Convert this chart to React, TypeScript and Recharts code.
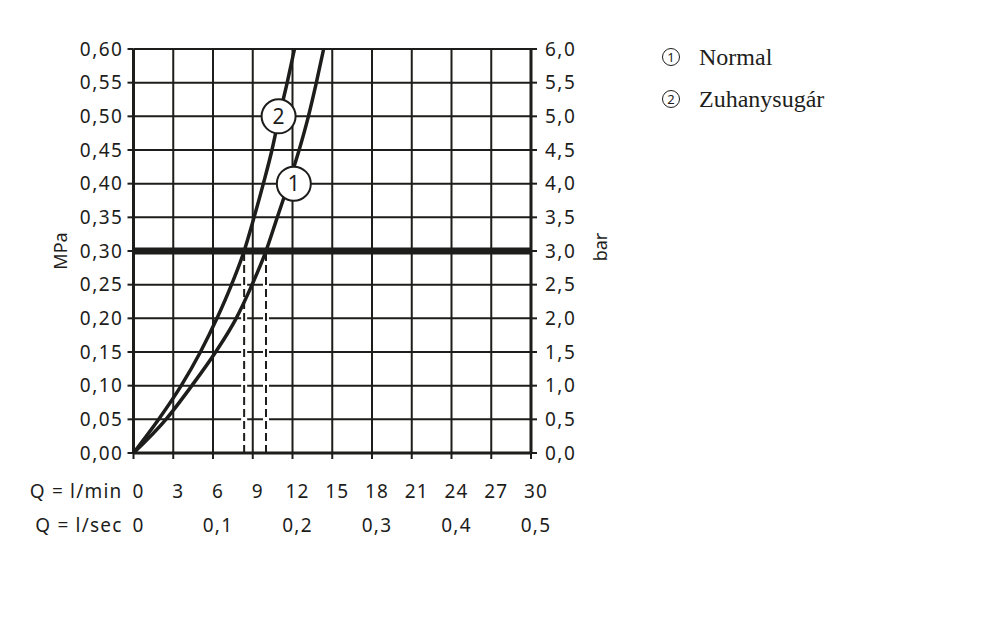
import {
  LineChart,
  Line,
  XAxis,
  YAxis,
  CartesianGrid,
  ReferenceLine,
  ReferenceDot,
  Label,
} from 'recharts';

// pressure steps (MPa) and the flow read for each curve at that pressure (l/min)
const pressureMPa = [0, 0.05, 0.1, 0.15, 0.2, 0.25, 0.3, 0.35, 0.4, 0.45, 0.5, 0.55, 0.6];
const normalFlow = [0, 2.45, 4.4, 6.2, 7.75, 8.95, 10.0, 10.85, 11.7, 12.5, 13.2, 13.8, 14.35];
const showerFlow = [0, 1.9, 3.6, 5.05, 6.3, 7.4, 8.35, 9.1, 9.8, 10.45, 11.0, 11.6, 12.15];

const lminTicks = [0, 3, 6, 9, 12, 15, 18, 21, 24, 27, 30];
const lsecTicks = [0, 6, 12, 18, 24, 30];
const lsecLabels = ['0', '0,1', '0,2', '0,3', '0,4', '0,5'];
const mpaTicks = [0, 0.05, 0.1, 0.15, 0.2, 0.25, 0.3, 0.35, 0.4, 0.45, 0.5, 0.55, 0.6];
const barTicks = [0, 0.5, 1, 1.5, 2, 2.5, 3, 3.5, 4, 4.5, 5, 5.5, 6];

const refPressure = 0.3;
const refFlows = [8.35, 10.0];

const normalData = pressureMPa.map((p, i) => ({ q: normalFlow[i], p }));
const showerData = pressureMPa.map((p, i) => ({ q: showerFlow[i], p }));
// same curve in bar, only so the right axis has something bound to it
const barData = pressureMPa.map((p, i) => ({ q: normalFlow[i], bar: p * 10 }));

const INK = '#1d1d1b';
const SANS = '"Noto Sans", "DejaVu Sans", sans-serif';

function FlowTick({ x, y, payload, index }: any) {
  const v = payload.value;
  const secIdx = lsecTicks.indexOf(v);
  return (
    <g fill={INK} fontFamily={SANS} fontSize={19} letterSpacing={1.2}>
      <text x={x + 5} y={y + 37} textAnchor="middle">
        {v}
      </text>
      {secIdx >= 0 && (
        <text x={x + 5} y={y + 71} textAnchor="middle">
          {lsecLabels[secIdx]}
        </text>
      )}
      {index === 0 && (
        <>
          <text x={x - 11} y={y + 37} textAnchor="end">
            Q = l/min
          </text>
          <text x={x - 11} y={y + 71} textAnchor="end">
            Q = l/sec
          </text>
        </>
      )}
    </g>
  );
}

function Circled({ n }: { n: number }) {
  return (
    <span
      style={{
        display: 'inline-flex',
        alignItems: 'center',
        justifyContent: 'center',
        width: 18,
        height: 18,
        border: `1.5px solid ${INK}`,
        borderRadius: '50%',
        fontFamily: SANS,
        fontSize: 13,
        lineHeight: 1,
        marginRight: 19,
        boxSizing: 'border-box',
      }}
    >
      {n}
    </span>
  );
}

export default function App() {
  return (
    <div style={{ position: 'relative', width: 984, height: 600 }}>
      <LineChart
        width={620}
        height={560}
        margin={{ top: 41, right: 17, bottom: 25, left: 0 }}
      >
        <CartesianGrid yAxisId="mpa" stroke={INK} strokeWidth={2} strokeOpacity={1} />
        <XAxis
          dataKey="q"
          type="number"
          domain={[0, 30]}
          ticks={lminTicks}
          interval={0}
          height={90}
          stroke={INK}
          strokeWidth={3}
          tickSize={6}
          tickLine={{ stroke: INK, strokeWidth: 2 }}
          tick={<FlowTick />}
          allowDuplicatedCategory={false}
        />
        <YAxis
          yAxisId="mpa"
          dataKey="p"
          type="number"
          domain={[0, 0.6]}
          ticks={mpaTicks}
          interval={0}
          width={125.5}
          stroke={INK}
          strokeWidth={3}
          tickSize={6}
          tickMargin={4}
          tickLine={{ stroke: INK, strokeWidth: 2 }}
          tick={{ fill: INK, fontSize: 19, fontFamily: SANS, letterSpacing: 1.5 }}
          tickFormatter={(v: number) => v.toFixed(2).replace('.', ',')}
        >
          <Label
            content={({ viewBox }: any) => (
              <text
                x={viewBox.x + 52}
                y={viewBox.y + viewBox.height / 2}
                transform={`rotate(-90 ${viewBox.x + 52} ${viewBox.y + viewBox.height / 2})`}
                textAnchor="middle"
                dominantBaseline="central"
                fill={INK}
                fontFamily={SANS}
                fontSize={18}
              >
                MPa
              </text>
            )}
          />
        </YAxis>
        <YAxis
          yAxisId="bar"
          orientation="right"
          dataKey="bar"
          type="number"
          domain={[0, 6]}
          allowDataOverflow
          ticks={barTicks}
          interval={0}
          width={80}
          stroke={INK}
          strokeWidth={3}
          tickSize={6}
          tickMargin={8}
          tickLine={{ stroke: INK, strokeWidth: 2 }}
          tick={{ fill: INK, fontSize: 19, fontFamily: SANS, letterSpacing: 1.5, textAnchor: 'start' }}
          tickFormatter={(v: number) => v.toFixed(1).replace('.', ',')}
        >
          <Label
            content={({ viewBox }: any) => (
              <text
                x={viewBox.x + 69}
                y={viewBox.y + viewBox.height / 2 - 4}
                transform={`rotate(-90 ${viewBox.x + 69} ${viewBox.y + viewBox.height / 2 - 4})`}
                textAnchor="middle"
                dominantBaseline="central"
                fill={INK}
                fontFamily={SANS}
                fontSize={18}
              >
                bar
              </text>
            )}
          />
        </YAxis>

        {refFlows.map((q) => (
          <ReferenceLine
            key={`w-${q}`}
            yAxisId="mpa"
            segment={[{ x: q, y: 0 }, { x: q, y: refPressure }]}
            stroke="#ffffff"
            strokeWidth={6}
          />
        ))}
        {refFlows.map((q) => (
          <ReferenceLine
            key={`d-${q}`}
            yAxisId="mpa"
            segment={[{ x: q, y: 0 }, { x: q, y: refPressure }]}
            stroke={INK}
            strokeWidth={2}
            strokeDasharray="8 4"
          />
        ))}
        <ReferenceLine yAxisId="mpa" y={refPressure} stroke={INK} strokeWidth={7} />

        <Line
          yAxisId="bar"
          data={barData}
          dataKey="bar"
          type="monotone"
          stroke="none"
          dot={false}
          activeDot={false}
          legendType="none"
          isAnimationActive={false}
        />
        <Line
          yAxisId="mpa"
          data={normalData}
          dataKey="p"
          type="monotone"
          stroke={INK}
          strokeWidth={3.5}
          dot={false}
          isAnimationActive={false}
        />
        <Line
          yAxisId="mpa"
          data={showerData}
          dataKey="p"
          type="monotone"
          stroke={INK}
          strokeWidth={3.5}
          dot={false}
          isAnimationActive={false}
        />

        <ReferenceDot
          yAxisId="mpa"
          x={10.95}
          y={0.5}
          r={17}
          fill="#ffffff"
          stroke={INK}
          strokeWidth={2}
        >
          <Label value="2" position="center" fill={INK} fontSize={21} fontFamily={SANS} />
        </ReferenceDot>
        <ReferenceDot
          yAxisId="mpa"
          x={12.1}
          y={0.4}
          r={17}
          fill="#ffffff"
          stroke={INK}
          strokeWidth={2}
        >
          <Label value="1" position="center" fill={INK} fontSize={21} fontFamily={SANS} />
        </ReferenceDot>
      </LineChart>

      <div
        style={{
          position: 'absolute',
          left: 654,
          top: 28,
          fontFamily: '"Liberation Serif", "Times New Roman", serif',
          fontSize: 24,
          color: INK,
        }}
      >
        <div style={{ display: 'flex', alignItems: 'center', height: 42 }}>
          <Circled n={1} />
          Normal
        </div>
        <div style={{ display: 'flex', alignItems: 'center', height: 42 }}>
          <Circled n={2} />
          Zuhanysugár
        </div>
      </div>
    </div>
  );
}
